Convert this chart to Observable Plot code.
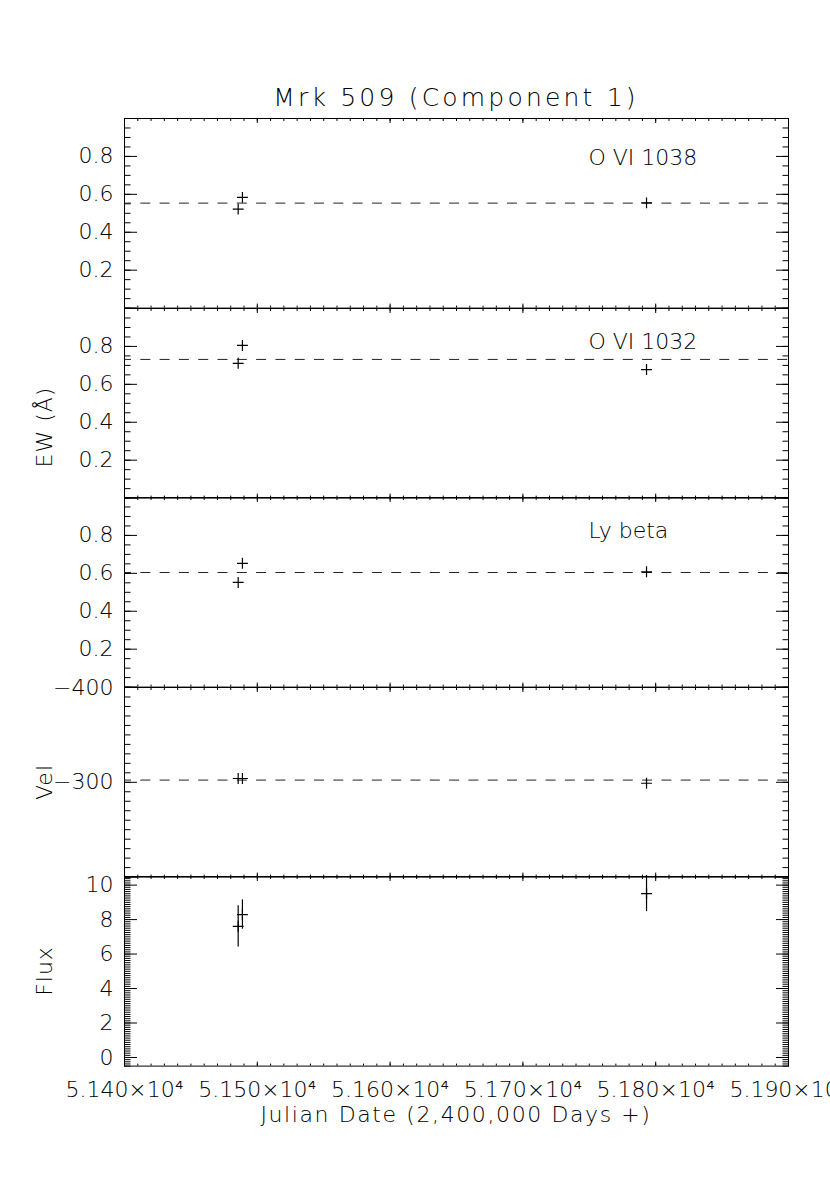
<!DOCTYPE html>
<html><head><meta charset="utf-8">
<script src="https://cdn.jsdelivr.net/npm/d3@7"></script>
<script src="https://cdn.jsdelivr.net/npm/@observablehq/plot@0.6"></script>
<style>
body{margin:0;background:#fff;}
#chart{position:relative;width:830px;height:1186px;overflow:hidden;font-family:"DejaVu Sans",sans-serif;font-weight:200;color:#000;}
.lbl{position:absolute;white-space:nowrap;line-height:1;}
.panel{position:absolute;left:0;}
</style></head><body><div id="chart"></div>
<script>
// ---- data ----
const title = "Mrk 509 (Component 1)";
const xTitle = "Julian Date (2,400,000 Days +)";
const julian = [51485.6, 51488.8, 51793.1];
const ovi1038 = [0.522, 0.584, 0.555];
const ovi1032 = [0.711, 0.805, 0.678];
const lyBeta = [0.552, 0.653, 0.608];
const velocity = [-304, -304, -299];
const flux = [7.61, 8.29, 9.51];
const fluxErr = [1.2, 0.85, 1.05];
const panelLabels = ["O VI 1038", "O VI 1032", "Ly beta"];
const yTitles = ["EW (Å)", "Vel", "Flux"];
const xTickValues = [51400, 51500, 51600, 51700, 51800, 51900];
const xTickLabels = ["5.140×10⁴", "5.150×10⁴", "5.160×10⁴", "5.170×10⁴", "5.180×10⁴", "5.190×10⁴"];
const ewTicks = [0.2, 0.4, 0.6, 0.8];
const velTicks = [-400, -300];
const fluxTicks = [0, 2, 4, 6, 8, 10];

// ---- layout ----
const W = 830, ML = 124, MR = 42;
const frameTops = [118, 307.6, 497.2, 686.8, 876.4];
const PH = 189.6;
const chart = document.getElementById("chart");
const xDomain = [51400, 51900];
const xMinor = d3.range(51400, 51900.1, 10);

function addLabel(text, css) {
  const d = document.createElement("div");
  d.className = "lbl";
  d.textContent = text;
  Object.assign(d.style, css);
  chart.appendChild(d);
  return d;
}

function makePanel(i, {yDomain, yMajor, yMinor, yFmt, marks, xLabels = false}) {
  const mt = 20, mb = xLabels ? 80 : 20;
  const ax = (o) => Object.assign({label: null}, o);
  const p = Plot.plot({
    width: W, height: PH + mt + mb,
    marginLeft: ML, marginRight: MR, marginTop: mt, marginBottom: mb,
    style: {background: "transparent", overflow: "visible", fontFamily: '"DejaVu Sans", sans-serif', fontWeight: 200, fontSize: "22px", color: "#000"},
    x: {domain: xDomain, label: null},
    y: {domain: yDomain, label: null},
    marks: [
      Plot.frame({stroke: "#000", strokeWidth: 1}),
      Plot.axisX(xMinor, ax({anchor: "bottom", tickSize: -2, fill: "none"})),
      Plot.axisX(xTickValues, ax({anchor: "bottom", tickSize: -4, fill: "none"})),
      Plot.axisX(xMinor, ax({anchor: "top", tickSize: -2, fill: "none"})),
      Plot.axisX(xTickValues, ax({anchor: "top", tickSize: -4, fill: "none"})),
      Plot.axisY(yMinor, ax({anchor: "left", tickSize: -6.5, fill: "none"})),
      Plot.axisY(yMajor.all, ax({anchor: "left", tickSize: -13, fill: "none"})),
      Plot.axisY(yMinor, ax({anchor: "right", tickSize: -6.5, fill: "none"})),
      Plot.axisY(yMajor.all, ax({anchor: "right", tickSize: -13, fill: "none"})),
      Plot.axisY(yMajor.labels, ax({anchor: "left", tickSize: 0, tickPadding: 11, tickFormat: yFmt, fontSize: 22, stroke: "none"})),
      ...(xLabels ? [Plot.axisX(xTickValues, ax({anchor: "bottom", tickSize: 0, tickPadding: 15, fontSize: 22, stroke: "none",
          tickFormat: d => xTickLabels[xTickValues.indexOf(d)]}))] : []),
      ...marks
    ]
  });
  const wrap = document.createElement("div");
  wrap.className = "panel";
  wrap.style.top = (frameTops[i] - mt) + "px";
  wrap.appendChild(p);
  chart.appendChild(wrap);
}

const rows = (ys) => julian.map((x, k) => ({x, y: ys[k]}));
const dash = {stroke: "#222", strokeWidth: 1, strokeDasharray: "10,9.3", strokeDashoffset: 3};
const plus = {x: "x", y: "y", symbol: "plus", r: 3.6, stroke: "#000", strokeWidth: 1.2};
const labelMark = (t, dy) => Plot.text([t], {frameAnchor: "top-left", dx: 464, dy, textAnchor: "start", lineAnchor: "middle", text: d => d, fontSize: 22, fill: "#000"});

const ewMinor = d3.range(0, 1.0001, 0.05);
const ewMajor = {all: [0, 0.2, 0.4, 0.6, 0.8, 1.0], labels: ewTicks};
const fmt1 = d => d.toFixed(1);

[ovi1038, ovi1032, lyBeta].forEach((vals, i) => {
  makePanel(i, {
    yDomain: [0, 1], yMajor: ewMajor, yMinor: ewMinor, yFmt: fmt1,
    marks: [
      Plot.ruleY([d3.mean(vals)], dash),
      Plot.dot(rows(vals), plus),
      labelMark(panelLabels[i], i === 0 ? 39 : 33)
    ]
  });
});

makePanel(3, {
  yDomain: [-200, -400], yMajor: {all: [-400, -300, -200], labels: velTicks}, yMinor: d3.range(-400, -199.9, 10),
  yFmt: d => "\u2212" + Math.abs(d),
  marks: [
    Plot.ruleY([d3.mean(velocity)], dash),
    Plot.dot(rows(velocity), plus)
  ]
});

const fluxRows = julian.map((x, k) => ({x, y: flux[k], lo: flux[k] - fluxErr[k], hi: flux[k] + fluxErr[k]}));
makePanel(4, {
  yDomain: [-0.5, 10.5], yMajor: {all: fluxTicks, labels: fluxTicks}, yMinor: d3.range(-0.5, 10.51, 0.125),
  yFmt: d => String(d), xLabels: true,
  marks: [
    Plot.ruleX(fluxRows, {x: "x", y1: "lo", y2: "hi", stroke: "#000", strokeWidth: 1.2}),
    Plot.dot(fluxRows, plus)
  ]
});

// ---- titles ----
addLabel(title, {left: "456px", top: "85px", transform: "translateX(-50%)", fontSize: "25px", letterSpacing: "3.2px"});
addLabel(xTitle, {left: "456px", top: "1104px", transform: "translateX(-50%)", fontSize: "22px", letterSpacing: "1.6px"});
const yTitleCenters = [427, 782, 971];
yTitles.forEach((t, i) => {
  addLabel(t, {left: "45px", top: yTitleCenters[i] + "px", transform: "translate(-50%,-50%) rotate(-90deg)", fontSize: "22px", letterSpacing: "1px"});
});
</script></body></html>
